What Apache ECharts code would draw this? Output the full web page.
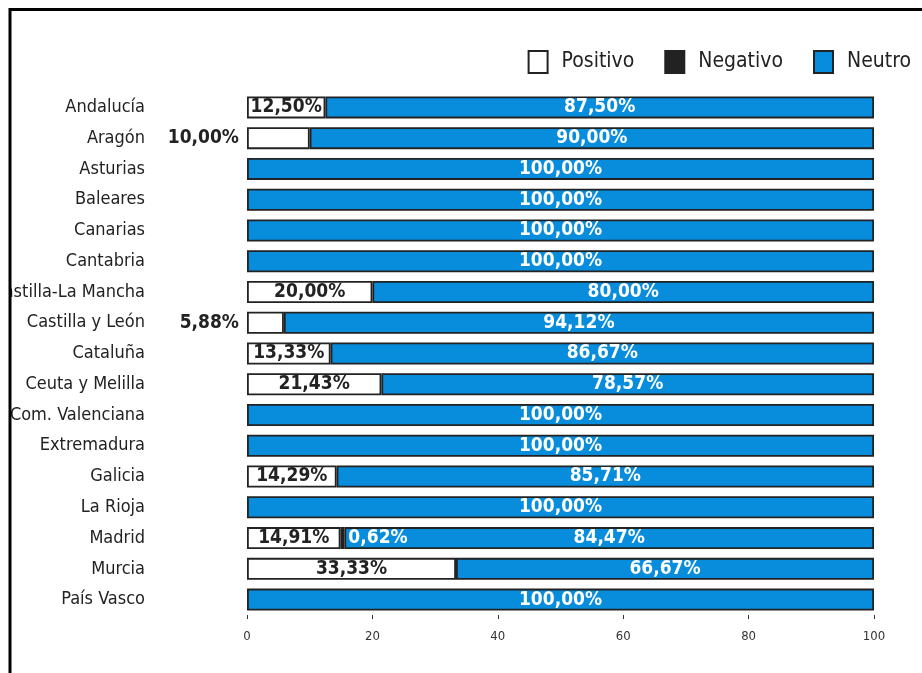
<!DOCTYPE html>
<html>
<head>
<meta charset="utf-8">
<script src="https://cdn.jsdelivr.net/npm/echarts@6/dist/echarts.min.js"></script>
<style>
html, body { margin: 0; padding: 0; background: #fff; }
#chart { width: 922px; height: 673px; }
</style>
</head>
<body>
<div id="chart"></div>
<script>
var regiones = ['Andalucía', 'Aragón', 'Asturias', 'Baleares', 'Canarias', 'Cantabria',
    'Castilla-La Mancha', 'Castilla y León', 'Cataluña', 'Ceuta y Melilla', 'Com. Valenciana',
    'Extremadura', 'Galicia', 'La Rioja', 'Madrid', 'Murcia', 'País Vasco'];
var positivo = [12.5, 10, 0, 0, 0, 0, 20, 5.88, 13.33, 21.43, 0, 0, 14.29, 0, 14.91, 33.33, 0];
var negativo = [0, 0, 0, 0, 0, 0, 0, 0, 0, 0, 0, 0, 0, 0, 0.62, 0, 0];
var neutro = [87.5, 90, 100, 100, 100, 100, 80, 94.12, 86.67, 78.57, 100, 100, 85.71, 100, 84.47, 66.67, 100];
var ticks = [0, 20, 40, 60, 80, 100];

var fuente = "'DejaVu Sans Condensed', 'Liberation Sans Narrow', sans-serif";

function pct(v) {
    return v.toFixed(2).replace('.', ',') + '%';
}

// barras pequeñas: la etiqueta va fuera, a la izquierda
function datos(arr, fuera) {
    return arr.map(function (v, i) {
        if (!v) return null;
        if (fuera && v < 11) {
            return { value: v, label: { position: 'left', distance: 8 } };
        }
        return v;
    });
}

var chart = echarts.init(document.getElementById('chart'));
var option = {
    animation: false,
    legend: {
        data: ['Positivo', 'Negativo', 'Neutro'],
        right: 6,
        top: 45,
        icon: 'rect',
        itemWidth: 19,
        itemHeight: 22,
        itemGap: 30,
        textStyle: { fontFamily: fuente, fontSize: 21, color: '#222', padding: [0, 0, 0, 9] }
    },
    grid: { left: 247, right: 48, top: 92, bottom: 58, outerBoundsMode: 'none' },
    xAxis: {
        type: 'value',
        min: 0,
        max: 100,
        interval: 20,
        axisLine: { show: false },
        axisTick: { show: true, length: 4, lineStyle: { color: '#333' } },
        splitLine: { show: false },
        axisLabel: {
            fontFamily: fuente, fontSize: 13, color: '#333', margin: 15,
            formatter: function (v) { return ticks.indexOf(v) >= 0 ? String(v) : ''; }
        }
    },
    yAxis: {
        type: 'category',
        data: regiones,
        inverse: true,
        axisLine: { show: false },
        axisTick: { show: false },
        axisLabel: { fontFamily: fuente, fontSize: 18, color: '#222', margin: 102 }
    },
    series: [
        {
            name: 'Positivo',
            type: 'bar',
            stack: 'total',
            barWidth: 22,
            itemStyle: { color: '#fff', borderColor: '#222', borderWidth: 1.8 },
            label: {
                show: true, position: 'inside', color: '#222',
                fontFamily: fuente, fontWeight: 'bold', fontSize: 19,
                formatter: function (p) { return pct(p.value); }
            },
            data: datos(positivo, true)
        },
        {
            name: 'Negativo',
            type: 'bar',
            stack: 'total',
            itemStyle: { color: '#222', borderColor: '#222', borderWidth: 1.8 },
            label: {
                show: true, position: 'right', distance: 4, color: '#fff',
                fontFamily: fuente, fontWeight: 'bold', fontSize: 19,
                formatter: function (p) { return pct(p.value); }
            },
            z: 3,
            data: datos(negativo, false)
        },
        {
            name: 'Neutro',
            type: 'bar',
            stack: 'total',
            itemStyle: { color: '#088ddc', borderColor: '#222', borderWidth: 1.8 },
            label: {
                show: true, position: 'inside', color: '#fff',
                fontFamily: fuente, fontWeight: 'bold', fontSize: 19,
                formatter: function (p) { return pct(p.value); }
            },
            data: datos(neutro, false)
        }
    ],
    graphic: [
        { type: 'rect', z: 100, shape: { x: 0, y: 0, width: 9, height: 673 }, style: { fill: '#fff' } },
        { type: 'rect', z: 100, shape: { x: 0, y: 0, width: 922, height: 8 }, style: { fill: '#fff' } },
        { type: 'rect', z: 101, shape: { x: 10, y: 9.5, width: 1000, height: 1000 },
          style: { fill: 'none', stroke: '#000', lineWidth: 3 } }
    ]
};
chart.setOption(option);
</script>
</body>
</html>
